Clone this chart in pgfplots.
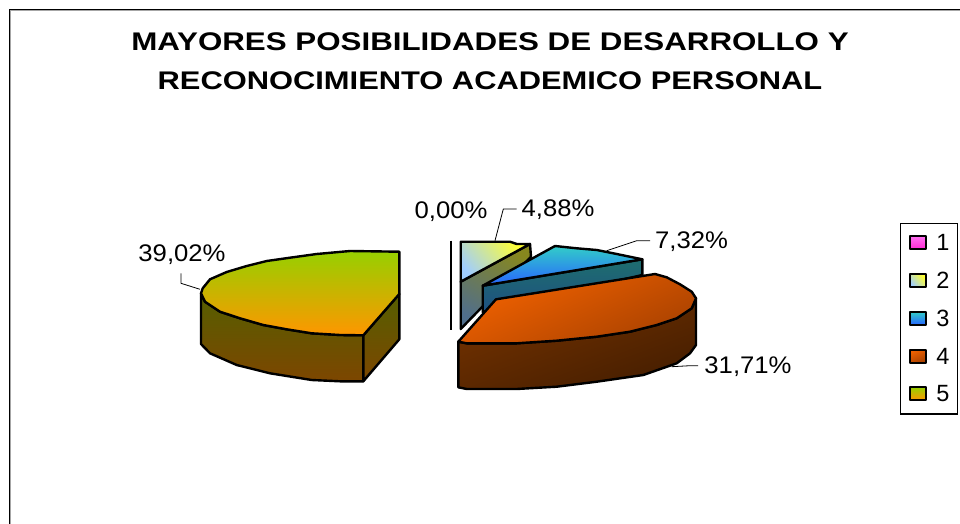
\documentclass[border=0pt]{standalone}
\usepackage{fontspec}
\setmainfont{Liberation Sans}
\usepackage{graphicx}
\usepackage{pgfplots}
\pgfplotsset{compat=1.18}
\definecolor{fvT}{RGB}{150,208,0}\definecolor{fvB}{RGB}{255,150,0}
\definecolor{svT}{RGB}{85,95,0}\definecolor{svB}{RGB}{125,70,0}
\definecolor{fcT}{RGB}{242,98,0}\definecolor{fcB}{RGB}{170,66,0}
\definecolor{scT}{RGB}{115,50,0}\definecolor{scB}{RGB}{70,30,0}
\definecolor{thT}{RGB}{50,205,200}\definecolor{thB}{RGB}{40,100,255}
\definecolor{sthT}{RGB}{30,110,110}\definecolor{sthB}{RGB}{30,80,130}
\definecolor{twA}{RGB}{255,255,50}\definecolor{twB}{RGB}{160,205,255}
\definecolor{stwA}{RGB}{135,135,30}\definecolor{stwB}{RGB}{80,110,140}
\definecolor{onT}{RGB}{255,110,240}\definecolor{onB}{RGB}{255,40,210}
\begin{document}
\begin{tikzpicture}
\useasboundingbox (0,0) rectangle (960pt,524pt);
\begin{axis}[
  at={(0,0)},anchor=south west,
  width=960pt,height=524pt,scale only axis,
  xmin=0,xmax=960,ymin=0,ymax=524,y dir=reverse,
  axis lines=none,
  every axis plot/.append style={line width=2.4pt,line join=round},
  legend style={at={(axis cs:900,223)},anchor=north west,draw=black,line width=1.2pt,
    inner xsep=8pt,inner ysep=11.3pt,font=\fontsize{23.5}{25}\selectfont,row sep=20.7pt,
    nodes={inner sep=0pt,text height=16pt,text depth=1pt}},
  legend cell align=left,
  legend image code/.code={\path[#1,line width=2pt] (0pt,-6pt) rectangle (16pt,7pt);\path (25.5pt,0pt);},
]
% chart frame
\addplot[black!35,line width=2.2pt,forget plot] coordinates {(9.8,530)(9.8,9.8)(970,9.8)};
\addplot[black,line width=1.4pt,forget plot] coordinates {(9.3,530)(9.3,9.3)(970,9.3)};
% slice 2 (4,88 %)
\addplot[draw=black,forget plot,top color=stwA,bottom color=stwB,shading angle=-30] coordinates {(460.7,281.7)(530,244)(531,256.7)(460.7,329)} --cycle;
\addplot[draw=black,forget plot,top color=twA,bottom color=twB,shading angle=-50] coordinates {(460.7,241.7)(510,241.7)(516.7,244)(530,244)(460.7,281.7)} --cycle;
% slice 3 (7,32 %)
\addplot[draw=black,forget plot,top color=sthT,bottom color=sthB] coordinates {(482.7,285.7)(642.3,259.3)(642.3,275)(482.7,312)} --cycle;
\addplot[draw=black,forget plot,top color=thT,bottom color=thB] coordinates {(555,246)(576.7,248.3)(596.7,250)(616.7,254)(642.3,259.3)(482.7,285.7)} --cycle;
% slice 4 (31,71 %)
\addplot[draw=black,forget plot,top color=scT,bottom color=scB,shading angle=20] coordinates {(458.3,341.7)(458.3,387.3)(466.7,389)(516.7,389)(556.7,386.7)(596.7,381.7)(643.3,375)(676.7,363.3)(690,353.3)(696,345)(696,298.3)(691.7,308.3)(676.7,318.3)(656.7,325)(630,331.7)(596.7,336.7)(556.7,340.7)(516.7,343.3)(466.7,343.3)} --cycle;
\addplot[draw=black,forget plot,top color=fcT,bottom color=fcB,shading angle=25] coordinates {(496,299.3)(655,274)(666.7,277.3)(680,284.3)(691.7,291.7)(696,298.3)(691.7,308.3)(676.7,318.3)(656.7,325)(630,331.7)(596.7,336.7)(556.7,340.7)(516.7,343.3)(466.7,343.3)(458.3,341.7)} --cycle;
% slice 1 (0,00 %)
\addplot[black,line width=2.6pt,forget plot] coordinates {(451,240.7)(451,330)};
% slice 5 (39,02 %)
\addplot[draw=black,forget plot,top color=svT,bottom color=svB] coordinates {(201,293.3)(201,344)(210,353.3)(236.7,365)(270,373.3)(311.7,380)(340,381.3)(363.3,381.3)(363.3,335.3)(340,335)(311.7,333.3)(286.7,329.3)(263.3,325)(240,318.3)(220,311.7)(205,301.7)} --cycle;
\addplot[draw=black,forget plot,top color=svT,bottom color=svB] coordinates {(363.3,335.3)(399.3,294)(399.3,339.3)(363.3,381.3)} --cycle;
\addplot[draw=black,forget plot,top color=fvT,bottom color=fvB] coordinates {(399.3,251.7)(350,251)(316.7,254)(290,257.7)(266.7,261)(246.7,266)(226.7,272)(210,279.3)(202.7,288.3)(201,293.3)(205,301.7)(220,311.7)(240,318.3)(263.3,325)(286.7,329.3)(311.7,333.3)(340,335)(363.3,335.3)(399.3,294)} --cycle;
% leader lines
\addplot[black,line width=0.8pt,forget plot] coordinates {(181,273.3)(181,283.3)(200,289.3)};
\addplot[black,line width=0.8pt,forget plot] coordinates {(516.7,209)(503.3,209)(495,240.7)};
\addplot[black,line width=0.8pt,forget plot] coordinates {(650,240.7)(636.7,240.7)(606.7,250.7)};
\addplot[black,line width=0.8pt,forget plot] coordinates {(698,365.7)(690,365.7)(671.7,366.7)};
% texts
\node[anchor=base,font=\bfseries\fontsize{25.5}{28}\selectfont] at (axis cs:490,51) {\scalebox{1.228}[1]{MAYORES POSIBILIDADES DE DESARROLLO Y}};
\node[anchor=base,font=\bfseries\fontsize{25.5}{28}\selectfont] at (axis cs:490,90) {\scalebox{1.21}[1]{RECONOCIMIENTO ACADEMICO PERSONAL}};
\node[anchor=base,font=\fontsize{24}{26}\selectfont] at (axis cs:182,261) {\scalebox{1.07}[1]{39,02\%}};
\node[anchor=base,font=\fontsize{24}{26}\selectfont] at (axis cs:451,218) {\scalebox{1.07}[1]{0,00\%}};
\node[anchor=base,font=\fontsize{24}{26}\selectfont] at (axis cs:558,216) {\scalebox{1.07}[1]{4,88\%}};
\node[anchor=base,font=\fontsize{24}{26}\selectfont] at (axis cs:691.5,248) {\scalebox{1.07}[1]{7,32\%}};
\node[anchor=base,font=\fontsize{24}{26}\selectfont] at (axis cs:748,373) {\scalebox{1.07}[1]{31,71\%}};
% legend
\addlegendimage{draw=black,top color=onT,bottom color=onB}\addlegendentry{1}
\addlegendimage{draw=black,top color=twA,bottom color=twB,shading angle=-50}\addlegendentry{2}
\addlegendimage{draw=black,top color=thT,bottom color=thB}\addlegendentry{3}
\addlegendimage{draw=black,top color=fcT,bottom color=fcB,shading angle=25}\addlegendentry{4}
\addlegendimage{draw=black,top color=fvT,bottom color=fvB}\addlegendentry{5}
\end{axis}
\end{tikzpicture}
\end{document}
